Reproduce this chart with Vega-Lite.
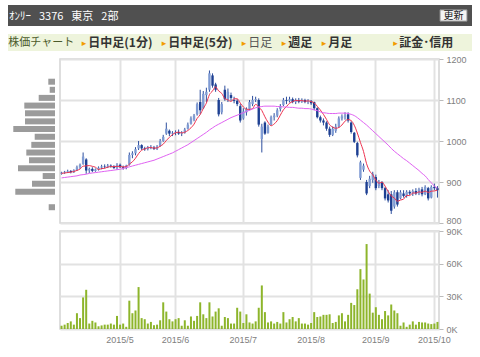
{
  "$schema": "https://vega.github.io/schema/vega-lite/v6.json",
  "padding": {"left": 8, "top": 5, "right": 0, "bottom": 0},
  "background": "white",
  "columns": 2,
  "spacing": {"row": 8, "column": 0},
  "bounds": "flush",
  "config": {
    "view": {"stroke": null},
    "axis": {"labelFont": "Liberation Sans", "labelFontSize": 9, "labelColor": "#808080"}
  },
  "datasets": {
    "px": [
      {"d":"2015-04-03","o":920,"h":925,"l":918,"c":923,"v":3000,"m5":921,"m25":910},
      {"d":"2015-04-06","o":923,"h":927,"l":920,"c":925,"v":4000,"m5":922,"m25":911},
      {"d":"2015-04-07","o":925,"h":930,"l":922,"c":927,"v":5500,"m5":923,"m25":912},
      {"d":"2015-04-08","o":927,"h":929,"l":921,"c":924,"v":7000,"m5":924,"m25":913},
      {"d":"2015-04-09","o":924,"h":931,"l":922,"c":929,"v":4000,"m5":925.6,"m25":914},
      {"d":"2015-04-10","o":929,"h":940,"l":927,"c":936,"v":14500,"m5":928.2,"m25":915},
      {"d":"2015-04-13","o":936,"h":945,"l":932,"c":942,"v":10000,"m5":931.6,"m25":917},
      {"d":"2015-04-14","o":944,"h":972,"l":942,"c":962,"v":29000,"m5":938.6,"m25":918},
      {"d":"2015-04-15","o":955,"h":958,"l":920,"c":928,"v":36000,"m5":939.4,"m25":919},
      {"d":"2015-04-16","o":928,"h":935,"l":922,"c":932,"v":5000,"m5":940,"m25":921},
      {"d":"2015-04-17","o":932,"h":936,"l":924,"c":927,"v":7500,"m5":938.2,"m25":922},
      {"d":"2015-04-20","o":927,"h":933,"l":925,"c":931,"v":6000,"m5":936,"m25":923},
      {"d":"2015-04-21","o":931,"h":938,"l":928,"c":935,"v":2500,"m5":930.6,"m25":924},
      {"d":"2015-04-22","o":935,"h":942,"l":931,"c":938,"v":3300,"m5":932.6,"m25":925},
      {"d":"2015-04-23","o":938,"h":943,"l":933,"c":937,"v":4000,"m5":933.6,"m25":926},
      {"d":"2015-04-24","o":937,"h":944,"l":934,"c":940,"v":4000,"m5":936.2,"m25":927},
      {"d":"2015-04-27","o":940,"h":943,"l":935,"c":938,"v":5000,"m5":937.6,"m25":928},
      {"d":"2015-04-28","o":938,"h":941,"l":932,"c":934,"v":4000,"m5":937.4,"m25":929},
      {"d":"2015-04-30","o":934,"h":946,"l":930,"c":942,"v":12000,"m5":938.2,"m25":930},
      {"d":"2015-05-01","o":942,"h":945,"l":934,"c":936,"v":4000,"m5":938,"m25":931},
      {"d":"2015-05-07","o":936,"h":940,"l":930,"c":934,"v":5000,"m5":936.8,"m25":933},
      {"d":"2015-05-08","o":934,"h":942,"l":931,"c":940,"v":2000,"m5":937.2,"m25":935},
      {"d":"2015-05-11","o":942,"h":972,"l":940,"c":966,"v":26000,"m5":943.6,"m25":937},
      {"d":"2015-05-12","o":966,"h":975,"l":958,"c":970,"v":14500,"m5":949.2,"m25":939},
      {"d":"2015-05-13","o":970,"h":985,"l":965,"c":980,"v":17000,"m5":958,"m25":941},
      {"d":"2015-05-14","o":982,"h":1000,"l":978,"c":990,"v":38500,"m5":969.2,"m25":943},
      {"d":"2015-05-15","o":990,"h":992,"l":978,"c":982,"v":10000,"m5":977.6,"m25":945},
      {"d":"2015-05-18","o":982,"h":986,"l":976,"c":980,"v":9000,"m5":980.4,"m25":947},
      {"d":"2015-05-19","o":980,"h":988,"l":977,"c":985,"v":5000,"m5":983.4,"m25":949},
      {"d":"2015-05-20","o":985,"h":990,"l":980,"c":984,"v":6500,"m5":984.2,"m25":951},
      {"d":"2015-05-21","o":984,"h":988,"l":978,"c":981,"v":3500,"m5":982.4,"m25":953},
      {"d":"2015-05-22","o":981,"h":990,"l":978,"c":986,"v":4000,"m5":983.2,"m25":956},
      {"d":"2015-05-25","o":988,"h":1005,"l":986,"c":1000,"v":8000,"m5":987.2,"m25":959},
      {"d":"2015-05-26","o":1000,"h":1015,"l":998,"c":1010,"v":24500,"m5":992.2,"m25":962},
      {"d":"2015-05-27","o":1018,"h":1045,"l":1015,"c":1030,"v":16000,"m5":1001.4,"m25":965},
      {"d":"2015-05-28","o":1025,"h":1028,"l":1012,"c":1018,"v":9000,"m5":1008.8,"m25":968},
      {"d":"2015-05-29","o":1018,"h":1024,"l":1012,"c":1020,"v":7000,"m5":1015.6,"m25":971},
      {"d":"2015-06-01","o":1020,"h":1026,"l":1014,"c":1022,"v":9000,"m5":1020,"m25":975},
      {"d":"2015-06-02","o":1022,"h":1028,"l":1015,"c":1018,"v":10000,"m5":1021.6,"m25":979},
      {"d":"2015-06-03","o":1018,"h":1024,"l":1012,"c":1020,"v":3000,"m5":1019.6,"m25":983},
      {"d":"2015-06-04","o":1020,"h":1032,"l":1018,"c":1028,"v":8000,"m5":1021.6,"m25":987},
      {"d":"2015-06-05","o":1030,"h":1045,"l":1028,"c":1040,"v":3000,"m5":1025.6,"m25":991},
      {"d":"2015-06-08","o":1042,"h":1060,"l":1040,"c":1055,"v":11500,"m5":1032.2,"m25":996},
      {"d":"2015-06-09","o":1052,"h":1066,"l":1048,"c":1062,"v":7500,"m5":1041,"m25":1001},
      {"d":"2015-06-10","o":1065,"h":1094,"l":1062,"c":1090,"v":12000,"m5":1055,"m25":1006},
      {"d":"2015-06-11","o":1095,"h":1125,"l":1065,"c":1075,"v":24500,"m5":1064.4,"m25":1011},
      {"d":"2015-06-12","o":1080,"h":1122,"l":1078,"c":1115,"v":13500,"m5":1079.4,"m25":1016},
      {"d":"2015-06-15","o":1112,"h":1130,"l":1095,"c":1120,"v":10000,"m5":1092.4,"m25":1021},
      {"d":"2015-06-16","o":1125,"h":1172,"l":1120,"c":1165,"v":24500,"m5":1113,"m25":1027},
      {"d":"2015-06-17","o":1160,"h":1165,"l":1130,"c":1135,"v":11500,"m5":1122,"m25":1032},
      {"d":"2015-06-18","o":1138,"h":1142,"l":1120,"c":1125,"v":16000,"m5":1132,"m25":1037},
      {"d":"2015-06-19","o":1100,"h":1105,"l":1060,"c":1065,"v":19000,"m5":1122,"m25":1041},
      {"d":"2015-06-22","o":1070,"h":1095,"l":1065,"c":1090,"v":3000,"m5":1116,"m25":1045},
      {"d":"2015-06-23","o":1125,"h":1135,"l":1098,"c":1102,"v":11000,"m5":1103.4,"m25":1049},
      {"d":"2015-06-24","o":1100,"h":1128,"l":1095,"c":1120,"v":10000,"m5":1100.4,"m25":1053},
      {"d":"2015-06-25","o":1112,"h":1118,"l":1098,"c":1105,"v":5000,"m5":1096.4,"m25":1057},
      {"d":"2015-06-26","o":1100,"h":1108,"l":1092,"c":1098,"v":5000,"m5":1103,"m25":1060},
      {"d":"2015-06-29","o":1098,"h":1102,"l":1085,"c":1090,"v":19500,"m5":1103,"m25":1063},
      {"d":"2015-06-30","o":1085,"h":1090,"l":1045,"c":1050,"v":16000,"m5":1092.6,"m25":1066},
      {"d":"2015-07-01","o":1055,"h":1080,"l":1052,"c":1072,"v":5500,"m5":1083,"m25":1069},
      {"d":"2015-07-02","o":1070,"h":1082,"l":1062,"c":1078,"v":13500,"m5":1077.6,"m25":1072},
      {"d":"2015-07-03","o":1078,"h":1100,"l":1075,"c":1095,"v":6000,"m5":1077,"m25":1075},
      {"d":"2015-07-06","o":1090,"h":1110,"l":1085,"c":1100,"v":5000,"m5":1079,"m25":1078},
      {"d":"2015-07-07","o":1100,"h":1108,"l":1095,"c":1102,"v":7000,"m5":1089.4,"m25":1081},
      {"d":"2015-07-08","o":1100,"h":1104,"l":1035,"c":1040,"v":19500,"m5":1083,"m25":1083},
      {"d":"2015-07-09","o":1005,"h":1042,"l":972,"c":1035,"v":40000,"m5":1074.4,"m25":1084},
      {"d":"2015-07-10","o":1045,"h":1048,"l":1015,"c":1018,"v":15500,"m5":1059,"m25":1085},
      {"d":"2015-07-13","o":1020,"h":1040,"l":1018,"c":1035,"v":6000,"m5":1046,"m25":1085},
      {"d":"2015-07-14","o":1040,"h":1062,"l":1038,"c":1058,"v":7000,"m5":1037.2,"m25":1085},
      {"d":"2015-07-15","o":1058,"h":1068,"l":1050,"c":1062,"v":5000,"m5":1041.6,"m25":1085},
      {"d":"2015-07-16","o":1062,"h":1080,"l":1058,"c":1075,"v":6500,"m5":1049.6,"m25":1084},
      {"d":"2015-07-17","o":1078,"h":1090,"l":1072,"c":1085,"v":5000,"m5":1063,"m25":1084},
      {"d":"2015-07-21","o":1088,"h":1105,"l":1085,"c":1100,"v":15500,"m5":1076,"m25":1083},
      {"d":"2015-07-22","o":1100,"h":1108,"l":1090,"c":1098,"v":6000,"m5":1084,"m25":1083},
      {"d":"2015-07-23","o":1098,"h":1108,"l":1094,"c":1102,"v":9000,"m5":1092,"m25":1082},
      {"d":"2015-07-24","o":1102,"h":1106,"l":1092,"c":1095,"v":11000,"m5":1096,"m25":1082},
      {"d":"2015-07-27","o":1095,"h":1104,"l":1090,"c":1100,"v":7000,"m5":1099,"m25":1081},
      {"d":"2015-07-28","o":1100,"h":1105,"l":1092,"c":1096,"v":10000,"m5":1098.2,"m25":1080},
      {"d":"2015-07-29","o":1096,"h":1104,"l":1093,"c":1100,"v":5000,"m5":1098.6,"m25":1080},
      {"d":"2015-07-30","o":1100,"h":1103,"l":1092,"c":1095,"v":5000,"m5":1097.2,"m25":1079},
      {"d":"2015-07-31","o":1095,"h":1102,"l":1090,"c":1098,"v":4000,"m5":1097.8,"m25":1079},
      {"d":"2015-08-03","o":1098,"h":1100,"l":1088,"c":1092,"v":5500,"m5":1096.2,"m25":1078},
      {"d":"2015-08-04","o":1095,"h":1096,"l":1075,"c":1080,"v":15500,"m5":1093,"m25":1076},
      {"d":"2015-08-05","o":1080,"h":1082,"l":1055,"c":1058,"v":11000,"m5":1084.6,"m25":1074},
      {"d":"2015-08-06","o":1058,"h":1062,"l":1045,"c":1050,"v":11500,"m5":1075.6,"m25":1071},
      {"d":"2015-08-07","o":1050,"h":1055,"l":1038,"c":1045,"v":13000,"m5":1065,"m25":1069},
      {"d":"2015-08-10","o":1045,"h":1048,"l":1025,"c":1030,"v":13000,"m5":1052.6,"m25":1068},
      {"d":"2015-08-11","o":1030,"h":1035,"l":1010,"c":1015,"v":13500,"m5":1039.6,"m25":1067},
      {"d":"2015-08-12","o":1015,"h":1035,"l":1012,"c":1030,"v":5500,"m5":1034,"m25":1067},
      {"d":"2015-08-13","o":1025,"h":1042,"l":1020,"c":1035,"v":6500,"m5":1031,"m25":1067},
      {"d":"2015-08-14","o":1035,"h":1060,"l":1032,"c":1055,"v":12500,"m5":1033,"m25":1068},
      {"d":"2015-08-17","o":1055,"h":1065,"l":1050,"c":1060,"v":14500,"m5":1039,"m25":1068},
      {"d":"2015-08-18","o":1060,"h":1070,"l":1052,"c":1062,"v":7000,"m5":1048.4,"m25":1068},
      {"d":"2015-08-19","o":1065,"h":1070,"l":1045,"c":1050,"v":13000,"m5":1052.4,"m25":1067},
      {"d":"2015-08-20","o":1045,"h":1048,"l":1018,"c":1022,"v":24000,"m5":1049.8,"m25":1065},
      {"d":"2015-08-21","o":1020,"h":1022,"l":995,"c":998,"v":22000,"m5":1038.4,"m25":1062},
      {"d":"2015-08-24","o":995,"h":998,"l":960,"c":965,"v":36500,"m5":1019.4,"m25":1057},
      {"d":"2015-08-25","o":910,"h":952,"l":905,"c":948,"v":55000,"m5":996.6,"m25":1051},
      {"d":"2015-08-26","o":930,"h":945,"l":925,"c":940,"v":45500,"m5":974.6,"m25":1045},
      {"d":"2015-08-27","o":900,"h":905,"l":868,"c":872,"v":78000,"m5":944.6,"m25":1039},
      {"d":"2015-08-28","o":890,"h":915,"l":885,"c":908,"v":32500,"m5":926.6,"m25":1032},
      {"d":"2015-08-31","o":905,"h":925,"l":898,"c":920,"v":15000,"m5":917.6,"m25":1025},
      {"d":"2015-09-01","o":912,"h":918,"l":880,"c":885,"v":20000,"m5":905,"m25":1018},
      {"d":"2015-09-02","o":890,"h":905,"l":885,"c":900,"v":13000,"m5":897,"m25":1011},
      {"d":"2015-09-03","o":900,"h":902,"l":880,"c":885,"v":9000,"m5":899.6,"m25":1004},
      {"d":"2015-09-04","o":885,"h":888,"l":855,"c":860,"v":16500,"m5":890,"m25":997},
      {"d":"2015-09-07","o":870,"h":880,"l":850,"c":855,"v":12500,"m5":877,"m25":990},
      {"d":"2015-09-08","o":870,"h":878,"l":822,"c":830,"v":22500,"m5":866,"m25":982},
      {"d":"2015-09-09","o":840,"h":880,"l":835,"c":875,"v":17000,"m5":861,"m25":975},
      {"d":"2015-09-10","o":875,"h":880,"l":840,"c":845,"v":14500,"m5":853,"m25":969},
      {"d":"2015-09-11","o":860,"h":880,"l":858,"c":875,"v":3000,"m5":856,"m25":963},
      {"d":"2015-09-14","o":872,"h":880,"l":862,"c":866,"v":6000,"m5":858.2,"m25":957},
      {"d":"2015-09-15","o":866,"h":880,"l":862,"c":876,"v":2000,"m5":867.4,"m25":952},
      {"d":"2015-09-16","o":876,"h":880,"l":868,"c":872,"v":4000,"m5":866.8,"m25":946},
      {"d":"2015-09-17","o":872,"h":882,"l":866,"c":878,"v":7000,"m5":873.4,"m25":940},
      {"d":"2015-09-18","o":878,"h":885,"l":868,"c":872,"v":4000,"m5":872.8,"m25":934},
      {"d":"2015-09-24","o":872,"h":886,"l":868,"c":882,"v":6500,"m5":876,"m25":928},
      {"d":"2015-09-25","o":882,"h":888,"l":865,"c":870,"v":6000,"m5":874.8,"m25":921},
      {"d":"2015-09-28","o":870,"h":892,"l":868,"c":888,"v":6000,"m5":878,"m25":915},
      {"d":"2015-09-29","o":885,"h":888,"l":855,"c":860,"v":5000,"m5":874.4,"m25":906},
      {"d":"2015-09-30","o":862,"h":892,"l":860,"c":888,"v":4500,"m5":877.6,"m25":898},
      {"d":"2015-10-01","o":888,"h":896,"l":880,"c":885,"v":5000,"m5":878.2,"m25":890},
      {"d":"2015-10-02","o":885,"h":890,"l":862,"c":880,"v":6500,"m5":880.2,"m25":885}
    ],
    "hist": [
      {"price":1154,"vol":26.8},{"price":1133,"vol":21.2},{"price":1112,"vol":65.2},
      {"price":1092,"vol":122.8},{"price":1072,"vol":120},{"price":1051,"vol":120},
      {"price":1031,"vol":166.8},{"price":1011,"vol":81.2},{"price":990,"vol":94.8},
      {"price":970,"vol":114.8},{"price":950,"vol":104},{"price":929,"vol":148},
      {"price":909,"vol":49.2},{"price":889,"vol":92},{"price":868,"vol":158.8},
      {"price":828,"vol":25.2}
    ],
    "hd": [
      {"item":"ｵﾝﾘｰ\u2002 3376\u2002 東京\u2002 2部","kind":"title"},
      {"item":"更新","kind":"button"}
    ],
    "nav": [
      {"label":"株価チャート","kind":"head"},
      {"label":"日中足(1分)","kind":"link"},
      {"label":"日中足(5分)","kind":"link"},
      {"label":"日足","kind":"current"},
      {"label":"週足","kind":"link"},
      {"label":"月足","kind":"link"},
      {"label":"証金･信用","kind":"last"}
    ]
  },
  "concat": [
    {
      "width": 52, "height": 21,
      "view": {"fill": "#505050", "stroke": null},
      "data": {"values": []},
      "mark": "point"
    },
    {
      "width": 412, "height": 21,
      "view": {"fill": "#505050", "stroke": null},
      "data": {"name": "hd"},
      "encoding": {
        "x": {"field": "item", "type": "nominal", "axis": null,
              "scale": {"type": "point", "padding": 0, "domain": ["ｵﾝﾘｰ\u2002 3376\u2002 東京\u2002 2部", "更新"], "range": [-51, 393.5]}}
      },
      "layer": [
        {"transform": [{"filter": "datum.kind == 'button'"}],
         "mark": {"type": "point", "filled": true, "shape": "M-1,-0.42L1,-0.42L1,0.42L-1,0.42Z", "size": 729, "fill": "#f4f4f4", "stroke": "#8a8a8a", "strokeWidth": 1, "opacity": 1}},
        {"transform": [{"filter": "datum.kind == 'title'"}],
         "mark": {"type": "text", "align": "left", "baseline": "middle", "color": "#ffffff", "font": "Noto Sans CJK JP", "fontSize": 11, "dy": 1},
         "encoding": {"text": {"field": "item"}}},
        {"transform": [{"filter": "datum.kind == 'button'"}],
         "mark": {"type": "text", "align": "center", "baseline": "middle", "color": "#222222", "font": "Noto Sans CJK JP", "fontSize": 10},
         "encoding": {"text": {"field": "item"}}}
      ]
    },
    {
      "width": 52, "height": 17,
      "view": {"fill": "#eef4dc", "stroke": null},
      "data": {"values": []},
      "mark": "point"
    },
    {
      "width": 412, "height": 17,
      "view": {"fill": "#eef4dc", "stroke": null},
      "data": {"name": "nav"},
      "encoding": {
        "x": {"field": "label", "type": "nominal", "axis": null,
              "scale": {"type": "point", "padding": 0,
                        "domain": ["株価チャート", "·a", "日中足(1分)", "·b", "日中足(5分)", "·c", "日足", "週足", "月足", "·d", "証金･信用"],
                        "range": [-58.3, 341.7]}}
      },
      "layer": [
        {"transform": [{"filter": "datum.kind == 'head'"}],
         "mark": {"type": "text", "align": "left", "baseline": "middle", "dx": 6.6, "color": "#4b5a2a", "font": "Noto Sans CJK JP", "fontSize": 11},
         "encoding": {"text": {"field": "label"}}},
        {"transform": [{"filter": "datum.kind == 'link' || datum.kind == 'current'"}],
         "mark": {"type": "text", "align": "left", "baseline": "middle", "color": "#f29b00", "font": "DejaVu Sans", "fontSize": 9, "text": "▸"}},
        {"transform": [{"filter": "datum.kind == 'link'"}],
         "mark": {"type": "text", "align": "left", "baseline": "middle", "dx": 6.6, "color": "#333333", "font": "Noto Sans CJK JP", "fontSize": 12, "fontWeight": "bold"},
         "encoding": {"text": {"field": "label"}}},
        {"transform": [{"filter": "datum.kind == 'current'"}],
         "mark": {"type": "text", "align": "left", "baseline": "middle", "dx": 6.6, "color": "#555555", "font": "Noto Sans CJK JP", "fontSize": 12},
         "encoding": {"text": {"field": "label"}}},
        {"transform": [{"filter": "datum.kind == 'last'"}],
         "mark": {"type": "text", "align": "left", "baseline": "middle", "dx": -8.4, "color": "#f29b00", "font": "DejaVu Sans", "fontSize": 9, "text": "▸"}},
        {"transform": [{"filter": "datum.kind == 'last'"}],
         "mark": {"type": "text", "align": "left", "baseline": "middle", "dx": -2.4, "color": "#333333", "font": "Noto Sans CJK JP", "fontSize": 12, "fontWeight": "bold"},
         "encoding": {"text": {"field": "label"}}}
      ]
    },
    {
      "width": 52, "height": 164,
      "data": {"name": "hist"},
      "mark": {"type": "bar", "orient": "horizontal", "height": 6, "color": "#9b9b9b"},
      "encoding": {
        "y": {"field": "price", "type": "quantitative", "scale": {"domain": [800, 1200]}, "axis": null},
        "x": {"field": "vol", "type": "quantitative", "scale": {"domain": [-20, 188], "reverse": true}, "axis": null}
      }
    },
    {
      "width": 379, "height": 164,
      "view": {"stroke": "#d4d4d4", "strokeWidth": 1.5},
      "data": {"name": "px"},
      "encoding": {
        "x": {"field": "d", "type": "ordinal",
              "scale": {"type": "band", "paddingInner": 0, "paddingOuter": 0},
              "axis": {"values": ["2015-05-01","2015-06-01","2015-07-01","2015-08-03","2015-09-01","2015-10-01"],
                       "labels": false, "ticks": false, "domain": false, "grid": true, "gridColor": "#e2e2e2", "gridWidth": 2, "bandPosition": 0.5, "title": null}}
      },
      "layer": [
        {"mark": {"type": "rule", "strokeWidth": 1, "color": "#2e4f9e"},
         "encoding": {
           "y": {"field": "l", "type": "quantitative", "scale": {"domain": [800, 1200]},
                 "axis": {"orient": "right", "values": [800, 900, 1000, 1100, 1200], "format": "d",
                          "labelBaseline": {"condition": {"test": "datum.value == 800", "value": "alphabetic"}, "value": "middle"},
                          "grid": true, "gridColor": "#e2e2e2", "gridWidth": 2, "domain": false, "tickColor": "#bbbbbb", "tickSize": 4, "labelPadding": 3, "title": null}},
           "y2": {"field": "h"}
         }},
        {"mark": {"type": "bar", "width": 2.4},
         "encoding": {
           "y": {"field": "o", "type": "quantitative", "title": null},
           "y2": {"field": "c"},
           "color": {"condition": {"test": "datum.c < datum.o", "value": "#1d3f92"}, "value": "#809cd4"}
         }},
        {"mark": {"type": "line", "color": "#ee3350", "strokeWidth": 1, "interpolate": "monotone"},
         "encoding": {"y": {"field": "m5", "type": "quantitative", "title": null}}},
        {"mark": {"type": "line", "color": "#e062f2", "strokeWidth": 1, "interpolate": "monotone"},
         "encoding": {"y": {"field": "m25", "type": "quantitative", "title": null}}}
      ]
    },
    {
      "width": 52, "height": 98,
      "data": {"values": []},
      "mark": "point"
    },
    {
      "width": 379, "height": 98,
      "view": {"stroke": "#d4d4d4", "strokeWidth": 1.5},
      "data": {"name": "px"},
      "mark": {"type": "bar", "width": 2, "color": "#8db52b"},
      "encoding": {
        "x": {"field": "d", "type": "ordinal",
              "scale": {"type": "band", "paddingInner": 0, "paddingOuter": 0},
              "axis": {"values": ["2015-05-01","2015-06-01","2015-07-01","2015-08-03","2015-09-01","2015-10-01"],
                       "labelExpr": "'2015/' + toNumber(substring(datum.value, 5, 7))",
                       "labelAngle": 0, "ticks": false, "domain": false, "grid": true, "gridColor": "#e2e2e2", "gridWidth": 2, "bandPosition": 0.5, "labelPadding": 6, "title": null}},
        "y": {"field": "v", "type": "quantitative", "scale": {"domain": [0, 90000]},
              "axis": {"orient": "right", "values": [0, 30000, 60000, 90000], "labelExpr": "(datum.value / 1000) + 'K'", "grid": true, "gridColor": "#e2e2e2", "gridWidth": 2, "domain": false, "tickColor": "#bbbbbb", "tickSize": 4, "labelPadding": 3, "title": null}}
      }
    }
  ]
}
